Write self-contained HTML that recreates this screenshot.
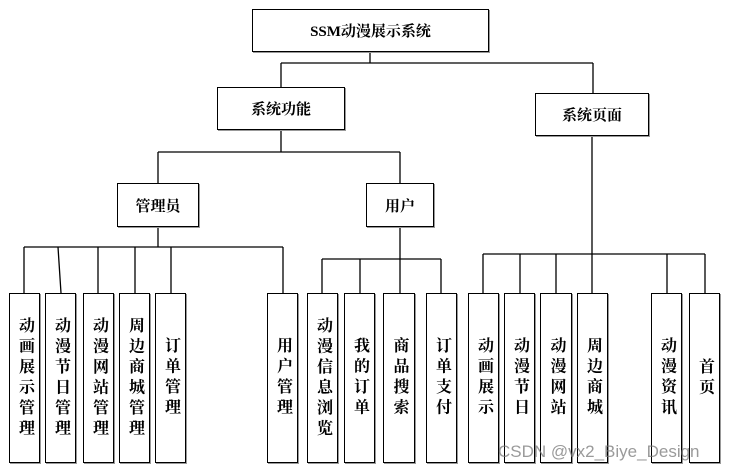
<!DOCTYPE html>
<html><head><meta charset="utf-8"><style>
html,body{margin:0;padding:0;background:#fff;}
body{width:731px;height:472px;position:relative;overflow:hidden;font-family:"Liberation Serif","Noto Serif CJK SC",serif;font-weight:bold;color:#000;}
.b{position:absolute;box-sizing:border-box;border:1.5px solid #000;background:#fff;box-shadow:1px 1px 0 #999;display:flex;align-items:center;justify-content:center;font-size:15px;}
.v{writing-mode:vertical-rl;text-orientation:upright;letter-spacing:4.5px;font-size:16px;line-height:16px;}
svg{position:absolute;left:0;top:0;}
.wm{position:absolute;left:498px;top:442px;font-family:"Liberation Sans",sans-serif;font-weight:normal;font-size:17px;color:rgba(120,120,120,0.75);}
</style></head><body>
<svg width="731" height="472" stroke="#000" stroke-width="1.3" fill="none">
<path d="M370 52V63M281 63H593M281 63V87M593 63V93"/>
<path d="M281 130V152M158 152H400M158 152V183M400 152V183"/>
<path d="M158 227V247M24 247H283M24 247V293M58 247L61 293M98 247V293M135 247V293M171 247V293M283 247V293"/>
<path d="M400 227V259M322 259H441M322 259V293M360 259V293M400 259V293M441 259V293"/>
<path d="M592 136V254M483 254H705M483 254V293M520 254V293M556 254V293M592 254V293M667 254V293M705 254V293"/>
</svg>
<div class="b" style="left:252px;top:9px;width:237px;height:43px;font-size:15px;">SSM动漫展示系统</div>
<div class="b" style="left:217px;top:87px;width:128px;height:43px;">系统功能</div>
<div class="b" style="left:535px;top:93px;width:114px;height:43px;">系统页面</div>
<div class="b" style="left:117px;top:183px;width:82px;height:44px;">管理员</div>
<div class="b" style="left:366px;top:183px;width:68px;height:44px;">用户</div>

<div class="b" style="left:9px;top:293px;width:31px;height:170px;"><span class="v">动画展示管理</span></div>
<div class="b" style="left:45px;top:293px;width:31px;height:170px;"><span class="v">动漫节日管理</span></div>
<div class="b" style="left:83px;top:293px;width:31px;height:170px;"><span class="v">动漫网站管理</span></div>
<div class="b" style="left:119px;top:293px;width:31px;height:170px;"><span class="v">周边商城管理</span></div>
<div class="b" style="left:155px;top:293px;width:31px;height:170px;"><span class="v">订单管理</span></div>
<div class="b" style="left:267px;top:293px;width:31px;height:170px;"><span class="v">用户管理</span></div>
<div class="b" style="left:307px;top:293px;width:31px;height:170px;"><span class="v">动漫信息浏览</span></div>
<div class="b" style="left:344px;top:293px;width:31px;height:170px;"><span class="v">我的订单</span></div>
<div class="b" style="left:383px;top:293px;width:32px;height:170px;"><span class="v">商品搜索</span></div>
<div class="b" style="left:426px;top:293px;width:31px;height:170px;"><span class="v">订单支付</span></div>
<div class="b" style="left:468px;top:293px;width:31px;height:170px;"><span class="v">动画展示</span></div>
<div class="b" style="left:504px;top:293px;width:31px;height:170px;"><span class="v">动漫节日</span></div>
<div class="b" style="left:540px;top:293px;width:32px;height:170px;"><span class="v">动漫网站</span></div>
<div class="b" style="left:577px;top:293px;width:31px;height:170px;"><span class="v">周边商城</span></div>
<div class="b" style="left:651px;top:293px;width:31px;height:170px;"><span class="v">动漫资讯</span></div>
<div class="b" style="left:689px;top:293px;width:31px;height:170px;"><span class="v">首页</span></div>
<div class="wm">CSDN @vx2_Biye_Design</div>
</body></html>
